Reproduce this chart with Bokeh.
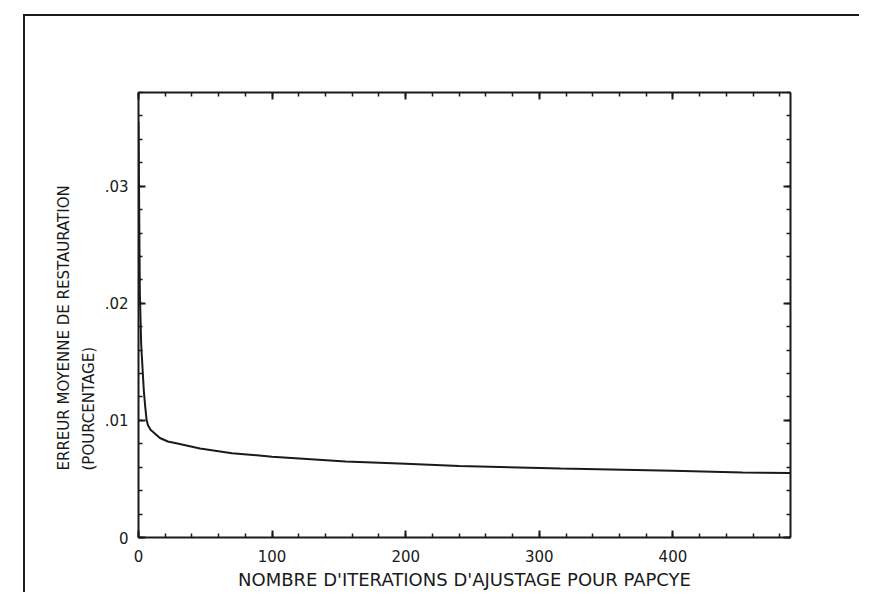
from bokeh.plotting import figure
from bokeh.models import (Range1d, SingleIntervalTicker, LinearAxis, Title,
                          CustomJSTickFormatter)
from bokeh.embed import file_html
from bokeh.resources import INLINE

# Data
iterations = [0, 1, 2, 3, 4, 5, 6, 7, 9, 12, 16, 22, 30, 46, 70, 100,
              155, 200, 240, 316, 400, 452, 488]
erreur = [0.0355, 0.0210, 0.0165, 0.0145, 0.0125, 0.0112, 0.0101, 0.0096,
          0.0092, 0.0089, 0.0085, 0.0082, 0.0080, 0.0076, 0.0072, 0.0069,
          0.0065, 0.0063, 0.0061, 0.0059, 0.0057, 0.00555, 0.0055]

x_title = "NOMBRE D'ITERATIONS D'AJUSTAGE POUR PAPCYE"
y_title_1 = "ERREUR MOYENNE DE RESTAURATION"
y_title_2 = "(POURCENTAGE)"

INK = "#1a1a1a"
FONT = "DejaVu Sans"
FS = "15px"

p = figure(width=859, height=592, output_backend="svg", toolbar_location=None,
           x_range=Range1d(0, 488), y_range=Range1d(0, 0.038),
           min_border_left=138, min_border_top=92,
           min_border_right=69, min_border_bottom=55,
           x_axis_location=None, y_axis_location=None)
p.grid.visible = False
p.outline_line_color = None
p.background_fill_color = "white"
p.border_fill_color = None
p.styles = {
    "background": ("linear-gradient(#1a1a1a, #1a1a1a) 23px 14px / 2px 100% no-repeat, "
                   "linear-gradient(#1a1a1a, #1a1a1a) 23px 14px / 100% 2px no-repeat, white"),
}

blank = CustomJSTickFormatter(code="return ''")
yfmt = CustomJSTickFormatter(code="if (Math.abs(tick) < 1e-9) return '0'; return tick.toFixed(2).replace(/^0/, '');")

def style(ax):
    ax.axis_line_color = INK
    ax.axis_line_width = 2
    ax.major_tick_line_color = INK
    ax.major_tick_line_width = 2
    ax.minor_tick_line_color = INK
    ax.minor_tick_line_width = 1.5
    ax.major_tick_in = 7
    ax.major_tick_out = 0
    ax.minor_tick_in = 4
    ax.minor_tick_out = 0
    ax.major_label_text_font = FONT
    ax.major_label_text_font_size = FS
    ax.major_label_text_color = INK
    ax.axis_label_text_font = FONT
    ax.axis_label_text_font_size = "18px"
    ax.axis_label_text_font_style = "normal"
    ax.axis_label_text_color = INK

xb = LinearAxis(ticker=SingleIntervalTicker(interval=100, num_minor_ticks=5),
                axis_label=x_title)
style(xb)
xb.major_label_standoff = 12
xb.axis_label_standoff = 4
p.add_layout(xb, "below")

xt = LinearAxis(ticker=SingleIntervalTicker(interval=100, num_minor_ticks=5),
                formatter=blank)
style(xt)
p.add_layout(xt, "above")

yl = LinearAxis(ticker=SingleIntervalTicker(interval=0.01, num_minor_ticks=5),
                formatter=yfmt)
style(yl)
yl.major_label_standoff = 10
p.add_layout(yl, "left")

yr = LinearAxis(ticker=SingleIntervalTicker(interval=0.01, num_minor_ticks=5),
                formatter=blank)
style(yr)
p.add_layout(yr, "right")

t2 = Title(text=y_title_2, align="left", offset=67, text_font=FONT,
           text_font_size=FS, text_font_style="normal", text_color=INK,
           standoff=7)
p.add_layout(t2, "left")
t1 = Title(text=y_title_1, align="left", offset=67, text_font=FONT,
           text_font_size=FS, text_font_style="normal", text_color=INK,
           standoff=3)
p.add_layout(t1, "left")

p.line(iterations, erreur, line_color=INK, line_width=2)

open("out.html", "w").write(file_html(p, INLINE))
